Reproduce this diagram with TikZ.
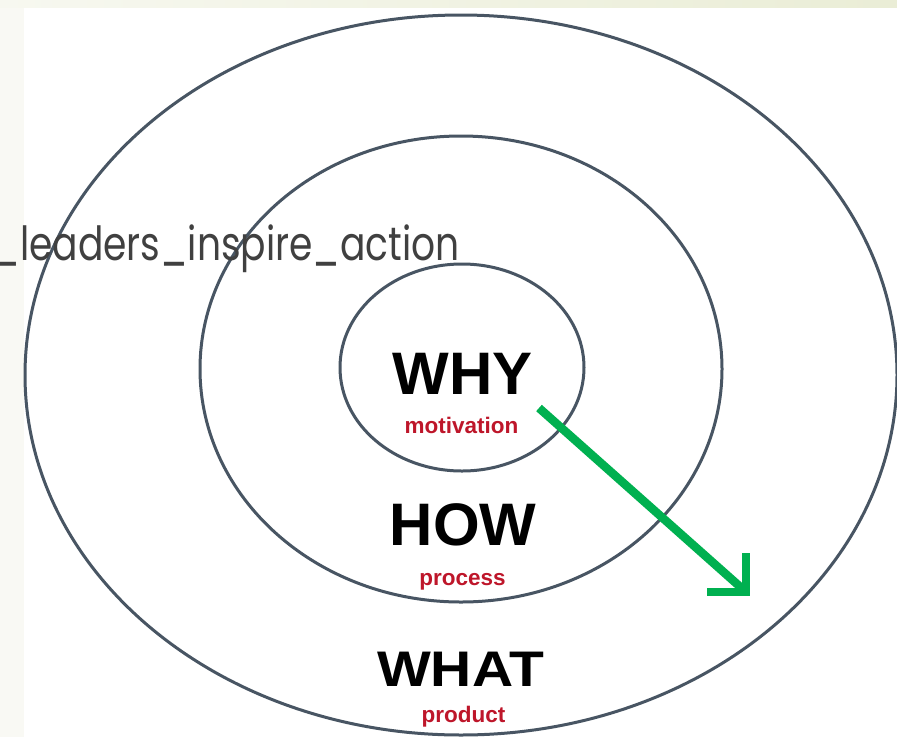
\documentclass[tikz,border=0pt]{standalone}
\usepackage{fontspec}
\usepackage{graphicx}
\setmainfont{Liberation Sans}
\newfontfamily\labelfont{Poppins}
\definecolor{ringline}{RGB}{72,85,99}
\definecolor{arrowgreen}{RGB}{0,176,80}
\definecolor{subred}{RGB}{190,22,42}
\definecolor{labelgray}{RGB}{64,64,64}
\definecolor{stripleft}{RGB}{249,249,244}
\definecolor{striptopL}{RGB}{247,248,240}
\definecolor{striptopR}{RGB}{234,237,214}

\begin{document}
\begin{tikzpicture}[x=1pt,y=-1pt,
  ring/.style={draw=ringline,line width=3pt},
  keyword/.style={font=\bfseries\fontsize{60}{60}\selectfont,text=black,inner sep=0pt,anchor=base},
  subword/.style={font=\bfseries\fontsize{22.5}{22.5}\selectfont,text=subred,inner sep=0pt,anchor=base},
  greenline/.style={draw=arrowgreen,line width=8.5pt}
]
\useasboundingbox (0,0) rectangle (897,737);
\clip (0,0) rectangle (897,737);

% slide background strips
\fill[white] (0,0) rectangle (897,737);
\fill[stripleft] (0,0) rectangle (24,737);
\shade[left color=striptopL,right color=striptopR] (0,0) rectangle (897,7);

% the three rings
\draw[ring] (461,375) ellipse [x radius=436, y radius=360];
\draw[ring] (461,369) ellipse [x radius=261, y radius=233];
\draw[ring] (462,367.5) ellipse [x radius=122, y radius=103.5];

% caption, running off the left edge
\node[font=\labelfont\fontsize{47}{47}\selectfont,text=labelgray,anchor=base east,inner sep=0pt]
  (caption) at (460,260) {\scalebox{0.8}[1]{\_leaders\_inspire\_action}};

% ring words
\node[keyword] (why) at (462.5,394) {WHY};
\node[subword] (whysub) at (461.5,433) {motivation};
\node[keyword] (how) at (463,545) {HOW};
\node[subword] (howsub) at (462.5,585) {process};
\node[keyword,font=\bfseries\fontsize{50}{50}\selectfont] (what) at (460.5,686) {\scalebox{1.14}[1]{WHAT}};
\node[subword] (whatsub) at (463.5,722) {product};

% green arrow
\coordinate (arrowStart) at (539,408);
\coordinate (arrowTip) at (746,592);
\draw[greenline,shorten >=3pt] (arrowStart) -- (arrowTip);
\draw[greenline,line join=miter] ([yshift=39pt]arrowTip) -- (arrowTip) -- ([xshift=-39pt]arrowTip);
\end{tikzpicture}
\end{document}
